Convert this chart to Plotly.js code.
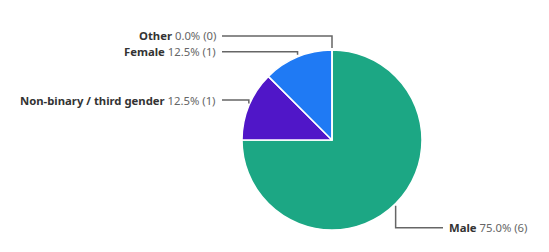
<!DOCTYPE html>
<html><head><meta charset="utf-8">
<script src="https://cdn.plot.ly/plotly-3.0.1.min.js"></script>
<style>html,body{margin:0;padding:0;background:#fff;}#chart{width:549px;height:252px;}</style>
</head><body><div id="chart"></div>
<script>
// Data
var labels = ["Male", "Non-binary / third gender", "Female", "Other"];
var counts = [6, 1, 1, 0];
var colors = ["#1ca784", "#5016c8", "#1f7af4", "#8a8a8a"];

// Layout (pixels)
var W = 549, H = 252;
var cx = 332, cy = 140, R = 90;
var labelDy = [24, -5.5, -5, -14];   // label vertical offset from slice edge point
var leftLabelX = 218, rightLabelX = 447, lineGap = 4;

var total = counts.reduce(function(a,b){return a+b;},0);
function px(x){return x/W;}
function py(y){return 1 - y/H;}

var shapes = [], annotations = [];
var cum = 0;
for (var i=0;i<counts.length;i++){
  var frac = counts[i]/total;
  var mid = (cum + frac/2) * 2*Math.PI;
  cum += frac;
  var ex = cx + R*Math.sin(mid), ey = cy - R*Math.cos(mid);
  var ly = ey + labelDy[i];
  var right = ex > cx + 1;
  var lx = right ? rightLabelX : leftLabelX;
  var lineEnd = right ? lx - lineGap : lx + lineGap;
  var startY = ey + (labelDy[i] > 0 ? 2 : -2);
  shapes.push({type:'path', xref:'paper', yref:'paper',
    path:'M '+px(ex)+' '+py(startY)+' L '+px(ex)+' '+py(ly)+' L '+px(lineEnd)+' '+py(ly),
    line:{color:'#666666', width:1.5}});
  var pct = (frac*100).toFixed(1)+'%';
  annotations.push({xref:'paper', yref:'paper', x:px(lx), y:py(ly),
    xanchor: right ? 'left':'right', yanchor:'middle', showarrow:false,
    text:'<b>'+labels[i]+'</b> <span style="color:#666666">'+pct+' ('+counts[i]+')</span>',
    font:{family:'Noto Sans, sans-serif', size:11.3, color:'#333333'}});
}

var trace = {type:'pie', labels:labels, values:counts, sort:false, direction:'clockwise', rotation:0,
  marker:{colors:colors, line:{color:'#ffffff', width:1.5}},
  textinfo:'none', hoverinfo:'none',
  domain:{x:[(cx-R)/W,(cx+R)/W], y:[1-(cy+R)/H, 1-(cy-R)/H]}};

Plotly.newPlot('chart', [trace], {
  width:W, height:H, margin:{l:0,r:0,t:0,b:0}, showlegend:false,
  paper_bgcolor:'#ffffff', shapes:shapes, annotations:annotations
}, {staticPlot:true, displayModeBar:false});
</script></body></html>
